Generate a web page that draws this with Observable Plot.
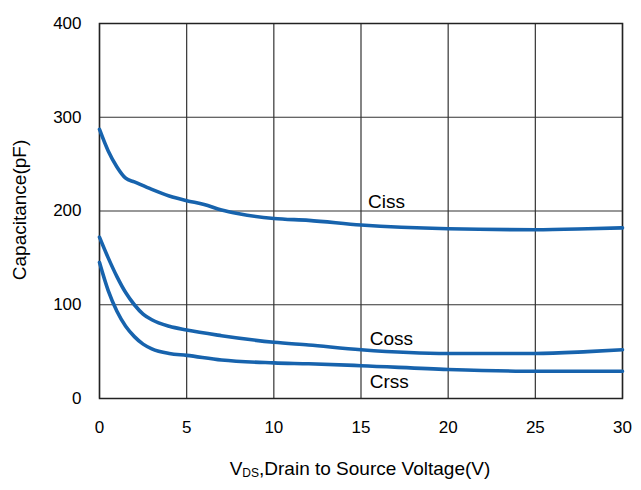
<!DOCTYPE html>
<html><head><meta charset="utf-8">
<script src="https://cdn.jsdelivr.net/npm/d3@7"></script>
<script src="https://cdn.jsdelivr.net/npm/@observablehq/plot@0.6"></script>
<style>body{margin:0;background:#fff}</style>
</head><body><div id="chart"></div>
<script>
const cissX = [0,0.5,1,1.5,2,3,4,5,6,7,8,10,12,15,20,25,28,30];
const cissY = [287,264,247,235,231,223,216,211,207,201,197,192,190,185,181,180,181,182];
const cossX = [0,0.5,1,1.5,2,2.5,3,4,5,7,10,12,15,20,25,28,30];
const cossY = [172,150,130,113,100,90,84,77,73,67,60,57,52,48,48,50,52];
const crssX = [0,0.5,1,1.5,2,2.5,3,4,5,7,10,12,15,20,25,30];
const crssY = [145,115,93,77,66,58,53,48,46,41,38,37,35,31,29,29];
const labelNames = ["Ciss","Coss","Crss"];
const labelX = [15.4,15.5,15.5];
const labelY = [210,64,18];
const xTicks = [0,5,10,15,20,25,30];
const yTicks = [0,100,200,300,400];

const toRows = (xs, ys, s) => xs.map((x,i)=>({x, y: ys[i], s}));
const data = [...toRows(cissX,cissY,"Ciss"),...toRows(cossX,cossY,"Coss"),...toRows(crssX,crssY,"Crss")];
const labels = labelNames.map((n,i)=>({n, x: labelX[i], y: labelY[i]}));
const font = "Liberation Sans, Arial, sans-serif";

const chart = Plot.plot({
  width: 641, height: 490,
  marginLeft: 99, marginRight: 19, marginTop: 23, marginBottom: 92,
  style: {fontFamily: font, fontSize: "17px", color: "#000", background: "#fff"},
  x: {domain: [0,30], ticks: xTicks, tickSize: 0, tickPadding: 22, label: null},
  y: {domain: [0,400], ticks: yTicks, tickSize: 0, tickPadding: 18, label: null},
  marks: [
    Plot.gridX(xTicks, {stroke: "#333", strokeOpacity: 1, strokeWidth: 1.2}),
    Plot.gridY(yTicks, {stroke: "#333", strokeOpacity: 1, strokeWidth: 1.2}),
    Plot.frame({stroke: "#222", strokeWidth: 1.5}),
    Plot.line(data, {x: "x", y: "y", z: "s", stroke: "#1763ad", strokeWidth: 3.6, curve: "monotone-x"}),
    Plot.text(labels, {x: "x", y: "y", text: "n", textAnchor: "start", fontSize: 19, fill: "#000"})
  ]
});
document.getElementById("chart").append(chart);

const svg = d3.select(chart);
svg.append("text")
  .attr("transform", "translate(26,210) rotate(-90)")
  .attr("text-anchor", "middle")
  .attr("font-size", 19).attr("font-family", font)
  .text("Capacitance(pF)");
const t = svg.append("text")
  .attr("x", 360).attr("y", 475)
  .attr("text-anchor", "middle")
  .attr("font-size", 19).attr("font-family", font);
t.append("tspan").text("V");
t.append("tspan").attr("font-size", 12).attr("dy", 2).text("DS");
t.append("tspan").attr("dy", -2).text(",Drain to Source Voltage(V)");
</script>
</body></html>
